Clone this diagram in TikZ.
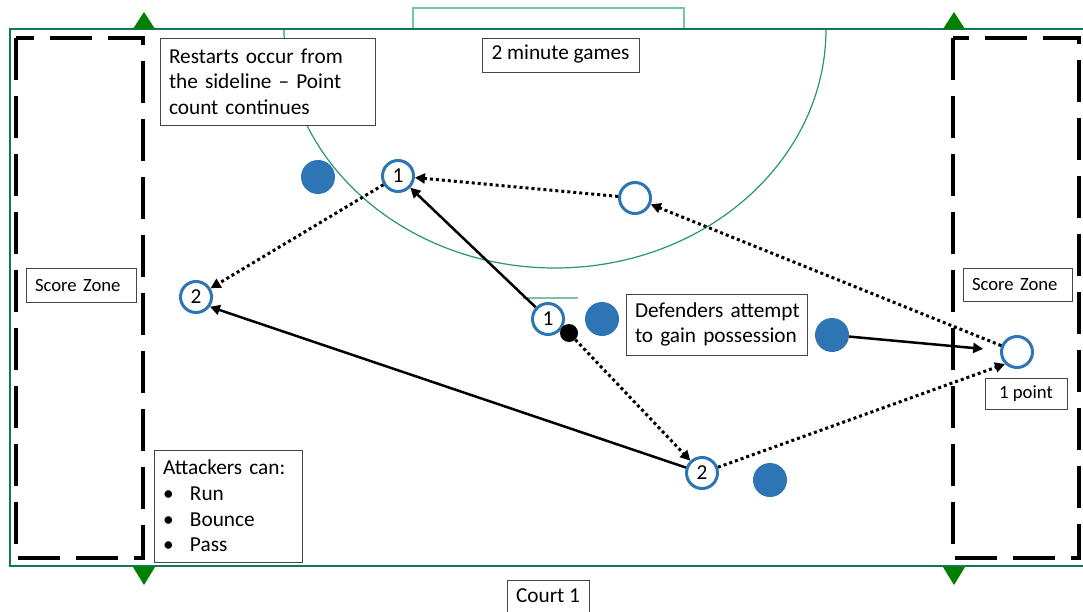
\documentclass[tikz,border=0pt]{standalone}
\usepackage{fontspec}
\setmainfont{Carlito}
\usetikzlibrary{arrows.meta}
\definecolor{courtgreen}{RGB}{14,122,82}
\definecolor{arcgreen}{RGB}{40,150,110}
\definecolor{mintgreen}{RGB}{120,196,166}
\definecolor{trigreen}{RGB}{0,128,0}
\definecolor{pblue}{RGB}{46,117,182}
\definecolor{boxgray}{RGB}{70,70,70}
\newcommand\bulletitem[1]{\mbox{\makebox[27pt][l]{•}#1}}
\begin{document}
\begin{tikzpicture}[x=1pt, y=-1pt,
 tbox/.style={draw=boxgray, line width=0.9pt, fill=white, inner sep=0pt, font=\fontsize{21.3}{25.7}\selectfont},
 tboxs/.style={tbox, font=\fontsize{18.7}{22}\selectfont},
 lbox/.style={align=left, inner xsep=9pt, text width=#1-18pt},
 player/.style={circle, draw=pblue, line width=3pt, fill=white, minimum size=31pt, inner sep=0pt, font=\fontsize{21.3}{25.7}\selectfont},
 defender/.style={circle, fill=pblue, minimum size=34pt, inner sep=0pt},
 ballst/.style={circle, fill=black, minimum size=18pt, inner sep=0pt},
 runarrow/.style={line width=2.5pt, -{Triangle[length=10pt,width=10pt]}},
 passarrow/.style={line width=3pt, dash pattern=on 3pt off 3pt, -{Triangle[length=10pt,width=10pt]}},
 zone/.style={line width=4pt, dash pattern=on 42pt off 16pt},
 courtline/.style={draw=courtgreen, line width=2.5pt},
 thinline/.style={draw=arcgreen, line width=1.2pt},
 goalline/.style={draw=mintgreen, line width=1.2pt},
 flag/.style={fill=trigreen}
]
\useasboundingbox (0,0) rectangle (1083,612);
\fill[white] (0,0) rectangle (1083,612);

% court markings
\begin{scope}
\clip (0,29) rectangle (1083,612);
\draw[thinline] (555,29) ellipse[x radius=271, y radius=239];
\end{scope}
\draw[goalline] (413,29) -- (413,8) -- (684,8) -- (684,29);
\draw[goalline] (523,298) -- (578,298);
\draw[courtline] (1095,29) -- (10,29) -- (10,566) -- (1095,566);

% score zones
\draw[zone] (16,38) rectangle (143,558);
\draw[zone] (953,38) rectangle (1079,558);

% flags
\fill[flag] (133,29) -- (144,12) -- (155,29) -- cycle;
\fill[flag] (943,29) -- (954,12) -- (965,29) -- cycle;
\fill[flag] (133,567) -- (144,585) -- (155,567) -- cycle;
\fill[flag] (943,567) -- (954,585) -- (965,567) -- cycle;

% text boxes
\node[tbox, lbox=215pt, minimum height=87pt] (restart) at (267.5,81.5)
  {\mbox{Restarts occur from}\\\mbox{the sideline – Point}\\\mbox{count continues}};
\node[tbox, minimum width=157pt, minimum height=34pt, text height=14pt, text depth=5pt] (games) at (560.5,55) {2 minute games};
\node[tboxs, lbox=110pt, minimum height=34pt] (szl) at (81,285) {\mbox{Score Zone}};
\node[tboxs, lbox=109pt, minimum height=33pt] (szr) at (1017.5,284.5) {\mbox{Score Zone}};
\node[tboxs, minimum width=82pt, minimum height=31pt] (onept) at (1026,393.5) {1 point};
\node[tbox, lbox=181pt, minimum height=61pt] (deftxt) at (716.5,324.5)
  {\mbox{Defenders attempt}\\\mbox{to gain possession}};
\node[tbox, lbox=148pt, minimum height=112pt] (att) at (228,506)
  {\mbox{Attackers can:}\\\bulletitem{Run}\\\bulletitem{Bounce}\\\bulletitem{Pass}};
\node[tbox, minimum width=82pt, minimum height=36pt, text height=14pt, text depth=5pt] (court) at (548,598) {Court 1};

% defenders
\node[defender] (d1) at (318,177) {};
\node[defender] (d2) at (602,319) {};
\node[defender] (d3) at (832,335) {};
\node[defender] (d4) at (770,480) {};

% attackers
\node[player] (a1) at (398,176) {1};
\node[player] (a2) at (196,297) {2};
\node[player] (c1) at (548,319) {1};
\node[player] (b2) at (702,473) {2};
\node[player] (te) at (635,198) {};
\node[player] (rc) at (1017,352) {};
\node[ballst] (ball) at (569,333) {};

% movements
\draw[runarrow] (c1) -- (a1);
\draw[passarrow] (te) -- (a1);
\draw[passarrow] (a1) -- (a2);
\draw[runarrow] (b2) -- (a2.-35);
\draw[passarrow] (ball) -- (b2);
\draw[passarrow] (b2) -- (rc.south west);
\draw[passarrow] (rc) -- (te);
\draw[runarrow, shorten >=17pt] (d3) -- (rc);
\end{tikzpicture}
\end{document}
